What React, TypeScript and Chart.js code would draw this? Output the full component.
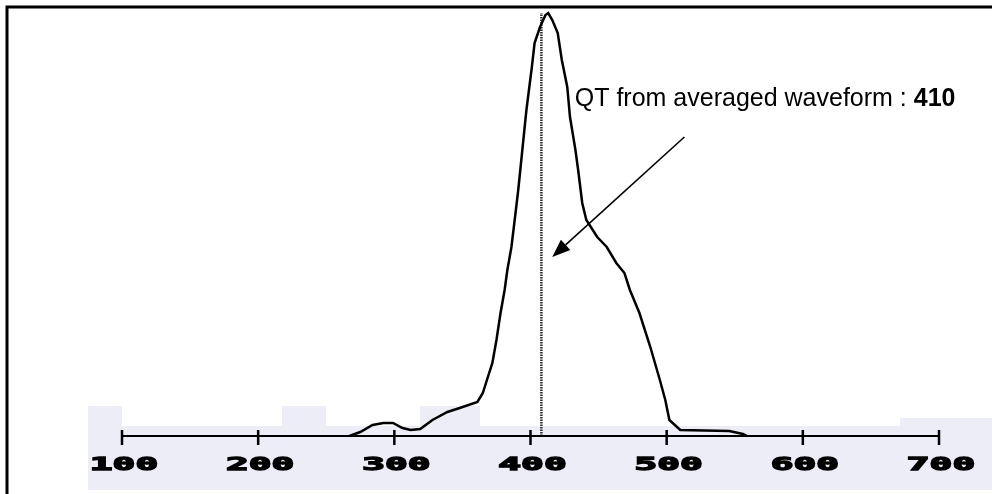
import React, { useEffect, useRef } from "react";
import { Chart, registerables } from "chart.js";

Chart.register(...registerables);

// QT interval values (ms) along the x axis and histogram heights (arbitrary units)
const qtValues = [267, 275, 284, 292, 299, 306, 312, 319, 328, 339, 348, 361, 365, 368, 372, 375, 378, 381, 383, 386, 389, 391, 394, 397, 401, 403, 407, 411, 413, 416, 420, 423, 427, 429, 433, 435, 438, 441, 449, 456, 463, 469, 473, 480, 488, 495, 499, 502, 510, 546, 556, 559];
const counts = [0, 4, 11, 13, 13, 8, 6, 7, 16, 24, 28, 34, 43, 56, 73, 96, 123, 146, 166, 189, 223, 246, 286, 326, 369, 393, 409, 421, 423, 416, 403, 376, 349, 319, 286, 266, 233, 216, 199, 189, 173, 163, 146, 123, 89, 56, 36, 16, 6, 5, 2, 0];

const tickValues = [100, 200, 300, 400, 500, 600, 700];
const tickLabels = ["100", "200", "300", "400", "500", "600", "700"];

const markerQT = 408;
const markerTop = 423;

const annotationText = "QT from averaged waveform : ";
const annotationValue = "410";
const annotationPos = { x: 432.5, y: 330 };
const arrowStart = { x: 513, y: 299 };
const arrowTip = { x: 416, y: 179 };

const decor = {
  id: "decor",
  beforeDraw(chart: any) {
    const { ctx, width, height } = chart;
    ctx.save();
    ctx.fillStyle = "#ffffff";
    ctx.fillRect(0, 0, width, height);
    ctx.fillStyle = "#ededf7";
    ctx.fillRect(88, 426, 904, 64);
    ctx.fillRect(88, 406, 34, 20);
    ctx.fillRect(282, 406, 44, 20);
    ctx.fillRect(420, 406, 60, 20);
    ctx.fillRect(900, 418, 92, 8);
    // frame
    ctx.strokeStyle = "#000";
    ctx.lineWidth = 3;
    ctx.beginPath();
    ctx.moveTo(7, height);
    ctx.lineTo(7, 7);
    ctx.lineTo(width, 7);
    ctx.stroke();
    ctx.restore();
  },
  afterDraw(chart: any) {
    const { ctx } = chart;
    const xs = chart.scales.x;
    const ys = chart.scales.y;
    const y0 = ys.getPixelForValue(0);
    ctx.save();
    // axis line
    ctx.strokeStyle = "#000";
    ctx.lineWidth = 2;
    ctx.beginPath();
    ctx.moveTo(xs.getPixelForValue(tickValues[0]), y0);
    ctx.lineTo(xs.getPixelForValue(tickValues[tickValues.length - 1]), y0);
    ctx.stroke();
    // ticks and labels
    ctx.lineWidth = 2.5;
    ctx.fillStyle = "#000";
    ctx.textAlign = "center";
    ctx.textBaseline = "alphabetic";
    tickValues.forEach((v, i) => {
      const px = xs.getPixelForValue(v);
      ctx.lineWidth = 2.5;
      ctx.beginPath();
      ctx.moveTo(px, y0 - 6);
      ctx.lineTo(px, y0 + 9);
      ctx.stroke();
      ctx.save();
      ctx.translate(px + 2, y0 + 34);
      ctx.scale(2.1, 1);
      ctx.font = 'bold 18px "DejaVu Sans Mono"';
      ctx.lineWidth = 1.3;
      ctx.lineJoin = "miter";
      ctx.fillText(tickLabels[i], 0, 0);
      ctx.strokeText(tickLabels[i], 0, 0);
      ctx.restore();
    });
    // annotation text
    const tx = xs.getPixelForValue(annotationPos.x);
    const ty = ys.getPixelForValue(annotationPos.y);
    ctx.textAlign = "left";
    ctx.font = '25px "Liberation Sans"';
    ctx.fillText(annotationText, tx, ty);
    const w = ctx.measureText(annotationText).width;
    ctx.font = 'bold 25px "Liberation Sans"';
    ctx.fillText(annotationValue, tx + w, ty);
    // arrow
    const sx = xs.getPixelForValue(arrowStart.x);
    const sy = ys.getPixelForValue(arrowStart.y);
    const ex = xs.getPixelForValue(arrowTip.x);
    const ey = ys.getPixelForValue(arrowTip.y);
    const ang = Math.atan2(ey - sy, ex - sx);
    const hl = 18;
    const hw = 7;
    const bx = ex - hl * Math.cos(ang);
    const by = ey - hl * Math.sin(ang);
    ctx.lineWidth = 1.6;
    ctx.beginPath();
    ctx.moveTo(sx, sy);
    ctx.lineTo(bx, by);
    ctx.stroke();
    ctx.beginPath();
    ctx.moveTo(ex, ey);
    ctx.lineTo(bx + hw * Math.sin(ang), by - hw * Math.cos(ang));
    ctx.lineTo(bx - hw * Math.sin(ang), by + hw * Math.cos(ang));
    ctx.closePath();
    ctx.fill();
    ctx.restore();
  },
};

export default function App() {
  const ref = useRef<HTMLCanvasElement | null>(null);
  useEffect(() => {
    if (!ref.current) return;
    const chart = new Chart(ref.current, {
      type: "line",
      data: {
        datasets: [
          {
            data: qtValues.map((x, i) => ({ x, y: counts[i] })),
            borderColor: "#000",
            borderWidth: 2.5,
            pointRadius: 0,
            tension: 0,
            fill: false,
            clip: false as any,
          },
          {
            data: [
              { x: markerQT, y: 0 },
              { x: markerQT, y: markerTop },
            ],
            borderColor: "#2a2a2a",
            borderWidth: 2.5,
            borderDash: [1.5, 1],
            pointRadius: 0,
            fill: false,
            clip: false as any,
          },
        ],
      },
      options: {
        animation: false,
        responsive: false,
        layout: { padding: { left: 122, right: 53, top: 6, bottom: 58 } },
        plugins: { legend: { display: false }, tooltip: { enabled: false } },
        scales: {
          x: { type: "linear", min: 100, max: 700, display: false },
          y: { type: "linear", min: 0, max: 430, display: false },
        },
      },
      plugins: [decor],
    });
    return () => chart.destroy();
  }, []);
  return (
    <div style={{ position: "absolute", left: 0, top: 0, width: 992, height: 494 }}>
      <canvas ref={ref} width={992} height={494} style={{ display: "block" }} />
    </div>
  );
}
